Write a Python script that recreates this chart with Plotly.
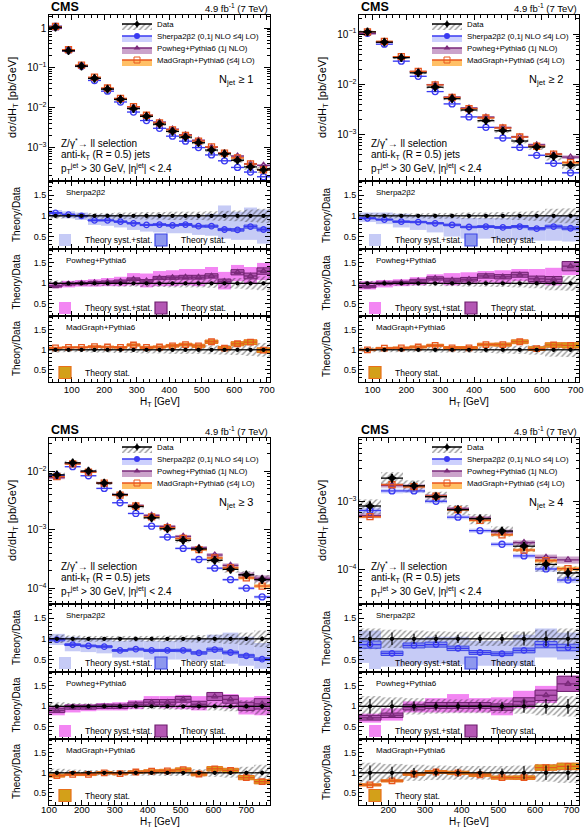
import numpy as np
import plotly.graph_objects as go

W, H = 586, 828
FONT = "Liberation Sans, Arial, Helvetica, sans-serif"

# ---------------- Panel 1 : N_jet >= 1 ----------------
P1_EDGES = [30, 70, 110, 150, 190, 230, 270, 310, 350, 390, 430, 470, 510, 550, 590, 630, 670, 710]
P1_DATA = [1.05, 0.27, 0.11, 0.054, 0.029, 0.016, 0.0094, 0.006, 0.0038, 0.0025, 0.0018, 0.0013, 0.00085, 0.00068, 0.00047, 0.00032, 0.00027]
P1_DATA_STAT = [0.003, 0.004, 0.005, 0.007, 0.009, 0.01, 0.012, 0.014, 0.016, 0.018, 0.02, 0.022, 0.025, 0.028, 0.03, 0.035, 0.04]
P1_DATA_SYST = [0.07, 0.06, 0.06, 0.07, 0.07, 0.08, 0.08, 0.09, 0.09, 0.10, 0.10, 0.10, 0.11, 0.12, 0.13, 0.15, 0.17]
P1_SHERPA = [1.12, 0.278, 0.11, 0.048, 0.0258, 0.0138, 0.0077, 0.0047, 0.003, 0.0019, 0.00142, 0.00098, 0.00064, 0.000456, 0.00031, 0.000237, 0.000181]
P1_POWHEG = [0.98, 0.265, 0.11, 0.055, 0.03, 0.0168, 0.0103, 0.0064, 0.0043, 0.00285, 0.00207, 0.0015, 0.001, 0.00071, 0.0006, 0.00038, 0.00035]
P1_MADGRAPH = [1.1, 0.286, 0.117, 0.058, 0.031, 0.017, 0.0105, 0.0064, 0.0041, 0.00275, 0.002, 0.00143, 0.00102, 0.00071, 0.00054, 0.00038, 0.00027]
P1_R_SHERPA = [1.07, 1.03, 1.0, 0.89, 0.89, 0.86, 0.82, 0.78, 0.79, 0.77, 0.79, 0.75, 0.75, 0.67, 0.66, 0.74, 0.67]
P1_R_POWHEG = [0.93, 0.98, 1.0, 1.02, 1.03, 1.05, 1.1, 1.06, 1.13, 1.14, 1.15, 1.15, 1.18, 1.05, 1.27, 1.18, 1.3]
P1_R_MADGRAPH = [1.05, 1.06, 1.06, 1.08, 1.07, 1.06, 1.12, 1.06, 1.07, 1.1, 1.13, 1.1, 1.2, 1.04, 1.15, 1.19, 0.99]
P1_SHERPA_LO = [0.97, 0.94, 0.9, 0.78, 0.76, 0.72, 0.66, 0.62, 0.6, 0.58, 0.58, 0.54, 0.52, 0.45, 0.42, 0.42, 0.33]
P1_SHERPA_HI = [1.14, 1.11, 1.08, 1.03, 1.03, 1.02, 1.0, 0.98, 1.0, 0.98, 1.0, 0.98, 1.05, 1.25, 1.1, 1.2, 1.15]
P1_POWHEG_LO = [0.88, 0.9, 0.92, 0.92, 0.93, 0.93, 0.95, 0.9, 0.93, 0.93, 0.95, 0.93, 0.98, 0.85, 1.05, 0.98, 1.08]
P1_POWHEG_HI = [1.02, 1.06, 1.08, 1.1, 1.13, 1.16, 1.25, 1.24, 1.3, 1.32, 1.35, 1.35, 1.4, 1.28, 1.45, 1.4, 1.5]
P1_SHERPA_STAT = [0.01, 0.01, 0.01, 0.015, 0.015, 0.02, 0.02, 0.02, 0.025, 0.025, 0.03, 0.03, 0.035, 0.04, 0.045, 0.05, 0.05]
P1_POWHEG_STAT = [0.02, 0.02, 0.02, 0.025, 0.025, 0.03, 0.03, 0.03, 0.035, 0.035, 0.04, 0.04, 0.045, 0.05, 0.05, 0.06, 0.06]
P1_MADGRAPH_STAT = [0.015, 0.015, 0.015, 0.02, 0.02, 0.02, 0.025, 0.025, 0.025, 0.03, 0.03, 0.035, 0.035, 0.04, 0.045, 0.05, 0.06]

# ---------------- Panel 2 : N_jet >= 2 ----------------
P2_EDGES = [60, 110, 160, 210, 260, 310, 360, 410, 460, 510, 560, 610, 660, 710]
P2_DATA = [0.111, 0.069, 0.034, 0.017, 0.0088, 0.0052, 0.0031, 0.0019, 0.0012, 0.00075, 0.00057, 0.00037, 0.00025]
P2_DATA_STAT = [0.005, 0.006, 0.008, 0.01, 0.012, 0.015, 0.018, 0.02, 0.025, 0.03, 0.035, 0.04, 0.05]
P2_DATA_SYST = [0.06, 0.06, 0.06, 0.06, 0.07, 0.07, 0.08, 0.08, 0.09, 0.10, 0.12, 0.17, 0.18]
P2_SHERPA = [0.104, 0.063, 0.029, 0.0145, 0.0072, 0.0041, 0.00226, 0.0014, 0.00086, 0.00056, 0.00039, 0.00027, 0.000175]
P2_POWHEG = [0.102, 0.069, 0.0347, 0.018, 0.0099, 0.0056, 0.0034, 0.00224, 0.00139, 0.00091, 0.00063, 0.00041, 0.00036]
P2_MADGRAPH = [0.111, 0.072, 0.0357, 0.0182, 0.0098, 0.0055, 0.0033, 0.00215, 0.00136, 0.0009, 0.00059, 0.00041, 0.00028]
P2_R_SHERPA = [0.94, 0.91, 0.86, 0.85, 0.82, 0.78, 0.73, 0.74, 0.72, 0.74, 0.69, 0.74, 0.70]
P2_R_POWHEG = [0.92, 1.0, 1.02, 1.06, 1.12, 1.08, 1.1, 1.18, 1.16, 1.21, 1.11, 1.1, 1.42]
P2_R_MADGRAPH = [1.0, 1.04, 1.05, 1.07, 1.11, 1.05, 1.05, 1.13, 1.13, 1.2, 1.03, 1.12, 1.11]
P2_SHERPA_LO = [0.85, 0.8, 0.72, 0.66, 0.6, 0.5, 0.45, 0.45, 0.42, 0.42, 0.4, 0.4, 0.38]
P2_SHERPA_HI = [1.08, 1.08, 1.05, 1.02, 1.0, 0.98, 0.95, 0.95, 0.95, 0.97, 0.98, 1.02, 1.0]
P2_POWHEG_LO = [0.85, 0.9, 0.93, 0.95, 1.0, 0.95, 0.98, 1.02, 1.0, 1.05, 0.98, 0.95, 1.2]
P2_POWHEG_HI = [1.05, 1.08, 1.1, 1.15, 1.22, 1.25, 1.27, 1.3, 1.32, 1.35, 1.35, 1.38, 1.5]
P2_SHERPA_STAT = [0.015, 0.015, 0.02, 0.02, 0.02, 0.025, 0.025, 0.03, 0.03, 0.035, 0.04, 0.045, 0.05]
P2_POWHEG_STAT = [0.03, 0.03, 0.03, 0.035, 0.035, 0.04, 0.04, 0.045, 0.045, 0.05, 0.06, 0.06, 0.08]
P2_MADGRAPH_STAT = [0.02, 0.02, 0.02, 0.025, 0.025, 0.03, 0.03, 0.03, 0.035, 0.04, 0.045, 0.05, 0.06]

# ---------------- Panel 3 : N_jet >= 3 ----------------
P3_EDGES = [100, 148, 196, 244, 292, 340, 388, 436, 484, 532, 580, 628, 676, 724, 772]
P3_DATA = [0.0087, 0.014, 0.0101, 0.0063, 0.004, 0.0025, 0.0016, 0.00104, 0.00066, 0.00047, 0.0003, 0.00021, 0.00017, 0.00014]
P3_DATA_STAT = [0.01, 0.008, 0.01, 0.012, 0.014, 0.016, 0.02, 0.024, 0.028, 0.032, 0.04, 0.045, 0.05, 0.06]
P3_DATA_SYST = [0.10, 0.08, 0.07, 0.07, 0.07, 0.07, 0.07, 0.08, 0.08, 0.09, 0.10, 0.12, 0.15, 0.20]
P3_SHERPA = [0.0085, 0.012, 0.0084, 0.0051, 0.0029, 0.0019, 0.00115, 0.00075, 0.00048, 0.00031, 0.00022, 0.00014, 0.0001, 0.000071]
P3_POWHEG = [0.0078, 0.0137, 0.0099, 0.0063, 0.004, 0.0026, 0.00176, 0.00114, 0.00077, 0.00049, 0.00037, 0.000246, 0.00017, 0.000148]
P3_MADGRAPH = [0.0081, 0.0134, 0.0097, 0.0063, 0.0039, 0.00255, 0.00166, 0.00109, 0.00071, 0.000456, 0.00033, 0.000223, 0.00015, 0.000109]
P3_R_SHERPA = [0.98, 0.86, 0.83, 0.81, 0.72, 0.75, 0.72, 0.72, 0.72, 0.66, 0.74, 0.67, 0.59, 0.51]
P3_R_POWHEG = [0.9, 0.98, 0.98, 1.0, 1.0, 1.05, 1.1, 1.1, 1.17, 1.05, 1.24, 1.17, 1.0, 1.06]
P3_R_MADGRAPH = [0.93, 0.96, 0.96, 1.0, 0.98, 1.02, 1.04, 1.05, 1.08, 0.97, 1.1, 1.06, 0.88, 0.78]
P3_SHERPA_LO = [0.85, 0.7, 0.68, 0.65, 0.55, 0.55, 0.5, 0.5, 0.5, 0.45, 0.5, 0.4, 0.35, 0.28]
P3_SHERPA_HI = [1.12, 1.05, 1.02, 1.0, 0.95, 0.98, 0.95, 0.95, 0.98, 1.0, 1.1, 1.15, 1.05, 0.9]
P3_POWHEG_LO = [0.78, 0.85, 0.88, 0.9, 0.9, 0.93, 1.0, 0.95, 0.93, 0.9, 0.97, 0.95, 0.8, 0.78]
P3_POWHEG_HI = [1.0, 1.05, 1.05, 1.08, 1.1, 1.15, 1.25, 1.25, 1.28, 1.25, 1.35, 1.3, 1.22, 1.25]
P3_SHERPA_STAT = [0.03, 0.025, 0.025, 0.03, 0.03, 0.03, 0.035, 0.035, 0.04, 0.045, 0.05, 0.05, 0.06, 0.06]
P3_POWHEG_STAT = [0.06, 0.05, 0.05, 0.05, 0.05, 0.05, 0.06, 0.06, 0.06, 0.07, 0.08, 0.08, 0.1, 0.12]
P3_MADGRAPH_STAT = [0.04, 0.03, 0.03, 0.03, 0.03, 0.03, 0.035, 0.035, 0.04, 0.045, 0.05, 0.05, 0.06, 0.07]

# ---------------- Panel 4 : N_jet >= 4 ----------------
P4_EDGES = [120, 180, 240, 300, 360, 420, 480, 540, 600, 660, 720]
P4_DATA = [0.00086, 0.0022, 0.0017, 0.00118, 0.00076, 0.00056, 0.00037, 0.000222, 0.00012, 0.00009]
P4_DATA_STAT = [0.18, 0.15, 0.12, 0.10, 0.10, 0.10, 0.11, 0.16, 0.18, 0.18]
P4_DATA_SYST = [0.25, 0.22, 0.20, 0.18, 0.17, 0.17, 0.17, 0.18, 0.22, 0.25]
P4_SHERPA = [0.00074, 0.00143, 0.00143, 0.00101, 0.00059, 0.000375, 0.000237, 0.00016, 0.000103, 0.000071]
P4_POWHEG = [0.00062, 0.00172, 0.00167, 0.0012, 0.00078, 0.00057, 0.00036, 0.00025, 0.000152, 0.00014]
P4_MADGRAPH = [0.0006, 0.00176, 0.00165, 0.0012, 0.00076, 0.00053, 0.000326, 0.000195, 0.000136, 0.000104]
P4_R_SHERPA = [0.86, 0.65, 0.84, 0.86, 0.77, 0.67, 0.64, 0.72, 0.86, 0.79]
P4_R_POWHEG = [0.72, 0.78, 0.98, 1.02, 1.02, 1.02, 0.98, 1.12, 1.27, 1.55]
P4_R_MADGRAPH = [0.7, 0.8, 0.97, 1.02, 1.0, 0.95, 0.88, 0.88, 1.13, 1.16]
P4_SHERPA_LO = [0.42, 0.33, 0.38, 0.4, 0.38, 0.35, 0.35, 0.35, 0.55, 0.5]
P4_SHERPA_HI = [1.2, 0.97, 1.0, 1.05, 1.05, 0.95, 0.95, 1.1, 1.25, 1.15]
P4_POWHEG_LO = [0.6, 0.65, 0.85, 0.85, 0.85, 0.85, 0.78, 0.95, 1.08, 1.35]
P4_POWHEG_HI = [0.82, 0.95, 1.12, 1.2, 1.3, 1.2, 1.22, 1.38, 1.5, 1.75]
P4_SHERPA_STAT = [0.1, 0.08, 0.07, 0.07, 0.07, 0.07, 0.07, 0.08, 0.09, 0.1]
P4_POWHEG_STAT = [0.08, 0.07, 0.07, 0.07, 0.07, 0.07, 0.08, 0.08, 0.1, 0.12]
P4_MADGRAPH_STAT = [0.04, 0.035, 0.035, 0.035, 0.04, 0.04, 0.045, 0.05, 0.06, 0.07]

NJET_LABELS = ["1", "2", "3", "4"]
X_RANGES = [[30, 710], [60, 710], [100, 772], [120, 720]]
Y_LOG_RANGES = [[-3.85, 0.33], [-3.92, -0.62], [-4.27, -1.43], [-4.5, -2.07]]
RATIO_RANGE = [0.2, 1.84]
RATIO_TICKS = [0.5, 1, 1.5]
RATIO_TICKTEXT = ["0.5", "1", "1.5"]
MODEL_LABELS = ["Sherpa2\u03b22", "Powheg+Pythia6", "MadGraph+Pythia6"]
LEGEND_LABELS = ["Data", "Sherpa2\u03b22 (0,1j NLO \u22644j LO)", "Powheg+Pythia6 (1j NLO)",
                 "MadGraph+Pythia6 (\u22644j LO)"]

PANELS = [
    dict(edges=P1_EDGES, data=P1_DATA, stat=P1_DATA_STAT, syst=P1_DATA_SYST,
         th=[P1_SHERPA, P1_POWHEG, P1_MADGRAPH], r=[P1_R_SHERPA, P1_R_POWHEG, P1_R_MADGRAPH],
         lo=[P1_SHERPA_LO, P1_POWHEG_LO], hi=[P1_SHERPA_HI, P1_POWHEG_HI],
         thstat=[P1_SHERPA_STAT, P1_POWHEG_STAT, P1_MADGRAPH_STAT]),
    dict(edges=P2_EDGES, data=P2_DATA, stat=P2_DATA_STAT, syst=P2_DATA_SYST,
         th=[P2_SHERPA, P2_POWHEG, P2_MADGRAPH], r=[P2_R_SHERPA, P2_R_POWHEG, P2_R_MADGRAPH],
         lo=[P2_SHERPA_LO, P2_POWHEG_LO], hi=[P2_SHERPA_HI, P2_POWHEG_HI],
         thstat=[P2_SHERPA_STAT, P2_POWHEG_STAT, P2_MADGRAPH_STAT]),
    dict(edges=P3_EDGES, data=P3_DATA, stat=P3_DATA_STAT, syst=P3_DATA_SYST,
         th=[P3_SHERPA, P3_POWHEG, P3_MADGRAPH], r=[P3_R_SHERPA, P3_R_POWHEG, P3_R_MADGRAPH],
         lo=[P3_SHERPA_LO, P3_POWHEG_LO], hi=[P3_SHERPA_HI, P3_POWHEG_HI],
         thstat=[P3_SHERPA_STAT, P3_POWHEG_STAT, P3_MADGRAPH_STAT]),
    dict(edges=P4_EDGES, data=P4_DATA, stat=P4_DATA_STAT, syst=P4_DATA_SYST,
         th=[P4_SHERPA, P4_POWHEG, P4_MADGRAPH], r=[P4_R_SHERPA, P4_R_POWHEG, P4_R_MADGRAPH],
         lo=[P4_SHERPA_LO, P4_POWHEG_LO], hi=[P4_SHERPA_HI, P4_POWHEG_HI],
         thstat=[P4_SHERPA_STAT, P4_POWHEG_STAT, P4_MADGRAPH_STAT]),
]

# ---------------- styles ----------------
LINE_COLORS = ["#3a3af2", "#7a2a7a", "#e8561e"]
MARKERS = ["circle-open", "triangle-up-open", "square-open"]
MAIN_BAND = ["rgba(110,120,250,0.35)", "rgba(140,50,140,0.45)", "rgba(255,150,0,0.6)"]
SYST_BAND = ["#c6cbf6", "#f386f3", None]
STAT_FILL = ["#8e98ee", "#b457b4", "#d3a019"]
STAT_EDGE = ["#3c46e8", "#6e1f6e", "#e8701a"]
HATCH = dict(shape="/", fgcolor="#262626", bgcolor="rgba(0,0,0,0)", size=4, solidity=0.33)

# pixel geometry (figure is 586 x 828)
COL_X = [(49, 270), (359, 579), (49, 270), (359, 579)]
ROW_TOP = [15, 15, 438, 438]
ROW_SPLITS = [0, 166, 234, 301, 367]  # main | sherpa | powheg | madgraph
XTITLE_Y = [402, 402, 821.5, 821.5]
TICK_STANDOFF = [-1, -1, -4, -4]


def px(x):
    return x / W


def py(y):
    return 1 - y / H


fig = go.Figure()
layout = dict(width=W, height=H, margin=dict(l=0, r=0, t=0, b=0, pad=0, autoexpand=False),
              paper_bgcolor="white", plot_bgcolor="white", barmode="overlay",
              font=dict(family=FONT, color="black"), showlegend=True)
annotations = []
n_leg = [0]


def new_legend(x_px, y_px, size):
    n_leg[0] += 1
    key = "legend" if n_leg[0] == 1 else "legend%d" % n_leg[0]
    layout[key] = dict(x=px(x_px), y=py(y_px), xanchor="left", yanchor="middle",
                       bgcolor="rgba(0,0,0,0)", borderwidth=0, tracegroupgap=0,
                       font=dict(size=size, family=FONT, color="black"),
                       itemclick=False, itemdoubleclick=False)
    return key


def band(xr, yr, centers, widths, lo, hi, color, pattern=None, edge=None, lw=0):
    marker = dict(color=color, line=dict(color=edge or "rgba(0,0,0,0)", width=lw))
    if pattern is not None:
        marker["pattern"] = pattern
    return go.Bar(x=centers, y=np.asarray(hi) - np.asarray(lo), base=lo, width=widths,
                  marker=marker, xaxis=xr, yaxis=yr, showlegend=False, hoverinfo="skip")


def points(xr, yr, centers, halfw, vals, color, symbol, size, err_y=None, mlw=1.3):
    ey = dict(type="data", array=err_y, width=0, thickness=1.2, color=color) if err_y is not None else None
    return go.Scatter(x=centers, y=vals, mode="markers", xaxis=xr, yaxis=yr, showlegend=False,
                      marker=dict(symbol=symbol, size=size, color=color, line=dict(width=mlw, color=color)),
                      error_x=dict(type="data", array=halfw, width=0, thickness=1.3, color=color),
                      error_y=ey, hoverinfo="skip")


for p, P in enumerate(PANELS):
    edges = np.array(P["edges"], dtype=float)
    centers = (edges[:-1] + edges[1:]) / 2
    widths = np.diff(edges)
    halfw = widths / 2
    data = np.array(P["data"])
    stat = np.array(P["stat"])
    syst = np.array(P["syst"])
    x0, x1 = COL_X[p]
    top = ROW_TOP[p]
    ids = [p * 4 + r + 1 for r in range(4)]
    xr = ["x" if i == 1 else "x%d" % i for i in ids]
    yr = ["y" if i == 1 else "y%d" % i for i in ids]

    for r in range(4):
        i = ids[r]
        y_top = top + ROW_SPLITS[r]
        y_bot = top + ROW_SPLITS[r + 1]
        xa = dict(domain=[px(x0), px(x1)], range=X_RANGES[p], anchor=yr[r], showgrid=False, zeroline=False,
                  showline=True, linecolor="black", linewidth=1, mirror="allticks", ticks="inside",
                  ticklen=5, tickwidth=1, tickcolor="black", tick0=0, dtick=100,
                  minor=dict(ticks="inside", ticklen=3, dtick=20, tick0=0, tickcolor="black", showgrid=False),
                  showticklabels=(r == 3), tickfont=dict(size=9.5, family=FONT, color="black"))
        if r == 3:
            xa["ticklabelstandoff"] = TICK_STANDOFF[p]
        if r > 0:
            xa["matches"] = xr[0]
        if r == 0:
            ya = dict(type="log", range=Y_LOG_RANGES[p], dtick=1, exponentformat="power",
                      tickfont=dict(size=8, family=FONT, color="black"),
                      minor=dict(ticks="inside", ticklen=3, dtick="D1", tickcolor="black", showgrid=False),
                      ticklen=6)
        else:
            ya = dict(range=RATIO_RANGE, tickvals=RATIO_TICKS, ticktext=RATIO_TICKTEXT,
                      tickfont=dict(size=9, family=FONT, color="black"),
                      minor=dict(ticks="inside", ticklen=3, dtick=0.1, tick0=0, tickcolor="black", showgrid=False),
                      ticklen=5)
        ya.update(domain=[py(y_bot), py(y_top)], anchor=xr[r], showgrid=False, zeroline=False,
                  showline=True, linecolor="black", linewidth=1, mirror="allticks", ticks="inside",
                  tickwidth=1, tickcolor="black")
        layout["xaxis" if i == 1 else "xaxis%d" % i] = xa
        layout["yaxis" if i == 1 else "yaxis%d" % i] = ya

    # ---------- main panel ----------
    fig.add_trace(band(xr[0], yr[0], centers, widths, data * (1 - syst), data * (1 + syst),
                       "rgba(0,0,0,0)", pattern=HATCH))
    for m in range(3):
        th = np.array(P["th"][m])
        ts = np.array(P["thstat"][m])
        fig.add_trace(band(xr[0], yr[0], centers, widths, th * (1 - ts), th * (1 + ts), MAIN_BAND[m]))
    for m in range(3):
        th = np.array(P["th"][m])
        fig.add_trace(points(xr[0], yr[0], centers, halfw, th, LINE_COLORS[m], MARKERS[m], 6))
    fig.add_trace(points(xr[0], yr[0], centers, halfw, data, "black", "star-diamond", 6, err_y=data * stat))

    # ---------- ratio panels ----------
    ones = data / data
    for m in range(3):
        rr = m + 1
        ratio = np.array(P["r"][m])
        ts = np.array(P["thstat"][m])
        if m < 2:
            fig.add_trace(band(xr[rr], yr[rr], centers, widths, P["lo"][m], P["hi"][m], SYST_BAND[m]))
        fig.add_trace(band(xr[rr], yr[rr], centers, widths, ones - syst, ones + syst,
                           "rgba(0,0,0,0)", pattern=HATCH))
        fig.add_trace(band(xr[rr], yr[rr], centers, widths, ratio * (1 - ts), ratio * (1 + ts),
                           STAT_FILL[m], edge=STAT_EDGE[m], lw=1))
        fig.add_trace(points(xr[rr], yr[rr], centers, halfw, ratio, LINE_COLORS[m], MARKERS[m], 5.5))
        fig.add_trace(points(xr[rr], yr[rr], centers, halfw, ones, "black", "circle", 3, err_y=stat))

    # ---------- main legend (one legend per entry) ----------
    leg_y = [9, 21, 33, 45]
    leg_fill = ["rgba(0,0,0,0)", MAIN_BAND[0], MAIN_BAND[1], MAIN_BAND[2]]
    leg_line = ["black", LINE_COLORS[0], LINE_COLORS[1], LINE_COLORS[2]]
    leg_sym = ["star-diamond", "circle", "triangle-up", "square-open"]
    for k in range(4):
        key = new_legend(x0 + 108 - 40, top + leg_y[k], 7.8)
        tr = go.Scatter(x=[None], y=[None], xaxis=xr[0], yaxis=yr[0], mode="lines+markers",
                        name=LEGEND_LABELS[k], legend=key, showlegend=True, fill="toself",
                        fillcolor=leg_fill[k], line=dict(color=leg_line[k], width=1.3),
                        marker=dict(symbol=leg_sym[k], size=6, color=leg_line[k]), hoverinfo="skip")
        if k == 0:
            tr.fillpattern = HATCH
        fig.add_trace(tr)

    # ---------- ratio legends ----------
    for m in range(3):
        y_top = top + ROW_SPLITS[m + 1]
        ly = y_top + (59 if m < 2 else 56.5)
        if m < 2:
            key = new_legend(x0 - 4, ly, 8.5)
            fig.add_trace(go.Bar(x=[None], y=[None], xaxis=xr[m + 1], yaxis=yr[m + 1], name="Theory syst.+stat.",
                                 legend=key, showlegend=True, marker=dict(color=SYST_BAND[m], line=dict(width=0))))
            key = new_legend(x0 + 92, ly, 8.5)
        else:
            key = new_legend(x0 - 4, ly, 8.5)
        fig.add_trace(go.Bar(x=[None], y=[None], xaxis=xr[m + 1], yaxis=yr[m + 1], name="Theory stat.",
                             legend=key, showlegend=True,
                             marker=dict(color=STAT_FILL[m], line=dict(width=1.2, color=STAT_EDGE[m]))))

    # ---------- texts ----------
    ymain_c = top + ROW_SPLITS[1] / 2
    annotations += [
        dict(text="<b>CMS</b>", x=px(x0), y=py(top - 8), xanchor="left", yanchor="middle",
             font=dict(size=12.5, family=FONT)),
        dict(text="4.9 fb<sup>-1</sup> (7 TeV)", x=px(x1), y=py(top - 7), xanchor="right", yanchor="middle",
             font=dict(size=9.5, family=FONT)),
        dict(text="d\u03c3/dH<sub>T</sub> [pb/GeV]", x=px(x0 - 36), y=py(ymain_c), textangle=-90,
             xanchor="center", yanchor="middle", font=dict(size=11, family=FONT)),
        dict(text="N<sub>jet</sub> \u2265 " + NJET_LABELS[p], x=px(x0 + 168), y=py(top + 65),
             xanchor="left", yanchor="middle", font=dict(size=11, family=FONT)),
        dict(text="Z/\u03b3<sup>*</sup>\u2192 ll selection", x=px(x0 + 10), y=py(top + 128),
             xanchor="left", yanchor="middle", font=dict(size=10, family=FONT)),
        dict(text="anti-k<sub>T</sub> (R = 0.5) jets", x=px(x0 + 10), y=py(top + 140),
             xanchor="left", yanchor="middle", font=dict(size=10, family=FONT)),
        dict(text="p<sub>T</sub><sup>jet</sup> &gt; 30 GeV, |\u03b7<sup>jet</sup>| &lt; 2.4", x=px(x0 + 10),
             y=py(top + 153), xanchor="left", yanchor="middle", font=dict(size=10, family=FONT)),
        dict(text="H<sub>T</sub> [GeV]", x=px((x0 + x1) / 2), y=py(XTITLE_Y[p]), borderpad=0,
             xanchor="center", yanchor="middle", font=dict(size=10, family=FONT)),
    ]
    for m in range(3):
        y_top = top + ROW_SPLITS[m + 1]
        y_bot = top + ROW_SPLITS[m + 2]
        annotations += [
            dict(text=MODEL_LABELS[m], x=px(x0 + 15), y=py(y_top + 11), xanchor="left", yanchor="middle",
                 font=dict(size=8, family=FONT)),
            dict(text="Theory/Data", x=px(x0 - 33), y=py((y_top + y_bot) / 2), textangle=-90,
                 xanchor="center", yanchor="middle", font=dict(size=10, family=FONT)),
        ]

for a in annotations:
    a.update(xref="paper", yref="paper", showarrow=False)
layout["annotations"] = annotations
fig.update_layout(**layout)
fig.write_html("out.html", config={"displayModeBar": False},
               post_script="document.body.style.margin='0px';")
